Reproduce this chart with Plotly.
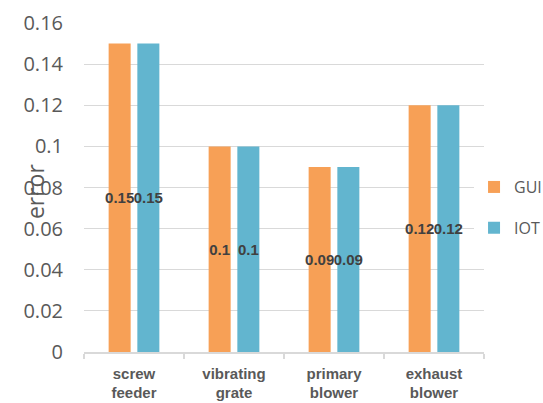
import plotly.graph_objects as go

categories = ["screw<br>feeder", "vibrating<br>grate", "primary<br>blower", "exhaust<br>blower"]
gui_error = [0.15, 0.1, 0.09, 0.12]
iot_error = [0.15, 0.1, 0.09, 0.12]
y_ticks = [0, 0.02, 0.04, 0.06, 0.08, 0.1, 0.12, 0.14, 0.16]
y_tick_text = ["0", "0.02", "0.04", "0.06", "0.08", "0.1", "0.12", "0.14", "0.16"]

ORANGE = "#F7A056"
BLUE = "#62B5CF"
GRAY = "#595959"
SANS = "Open Sans, sans-serif"
BOLD = "Liberation Sans, Arial, sans-serif"

fig = go.Figure()
for name, vals, col, grp in [("GUI", gui_error, ORANGE, "g1"), ("IOT", iot_error, BLUE, "g2")]:
    fig.add_trace(go.Bar(
        name=name, x=categories, y=vals, marker=dict(color=col, line=dict(width=0)),
        text=[f"{v:g}" for v in vals], textposition="inside", insidetextanchor="middle",
        textangle=0, constraintext="none",
        textfont=dict(family=BOLD, size=15, color="#404040", weight="bold"),
        cliponaxis=False, legendgroup=grp,
    ))

fig.update_layout(
    width=543, height=403,
    margin=dict(l=84, r=59, t=23, b=51, autoexpand=False),
    paper_bgcolor="white", plot_bgcolor="white",
    barmode="group", bargap=0.426, bargroupgap=0.233,
    uniformtext=dict(minsize=15, mode="show"),
    font=dict(family=SANS, color=GRAY),
    showlegend=True,
    legend=dict(x=0.873, y=0.485, xref="container", yref="container",
                xanchor="left", yanchor="middle",
                font=dict(size=16, color=GRAY, family=SANS), tracegroupgap=17,
                itemwidth=30),
    annotations=[dict(text="error", textangle=-90, xref="paper", yref="paper",
                      x=-0.1675, y=0.489, showarrow=False,
                      font=dict(size=23, color=GRAY, family=SANS))],
)
fig.update_yaxes(range=[0, 0.16], tickvals=y_ticks, ticktext=y_tick_text,
                 tickfont=dict(size=20, color=GRAY, family=SANS), showgrid=True,
                 gridcolor="#D9D9D9", gridwidth=1.3, zeroline=False,
                 showline=False, ticks="", ticklabelstandoff=20, automargin=False)
fig.update_xaxes(tickfont=dict(size=15, color=GRAY, weight="bold", family=BOLD),
                 showline=True, linecolor="#D9D9D9", linewidth=1.5,
                 ticks="outside", tickson="boundaries", ticklen=5,
                 tickcolor="#D9D9D9", tickwidth=1.5, ticklabelstandoff=7,
                 automargin=False)

fig.write_html("out.html")
